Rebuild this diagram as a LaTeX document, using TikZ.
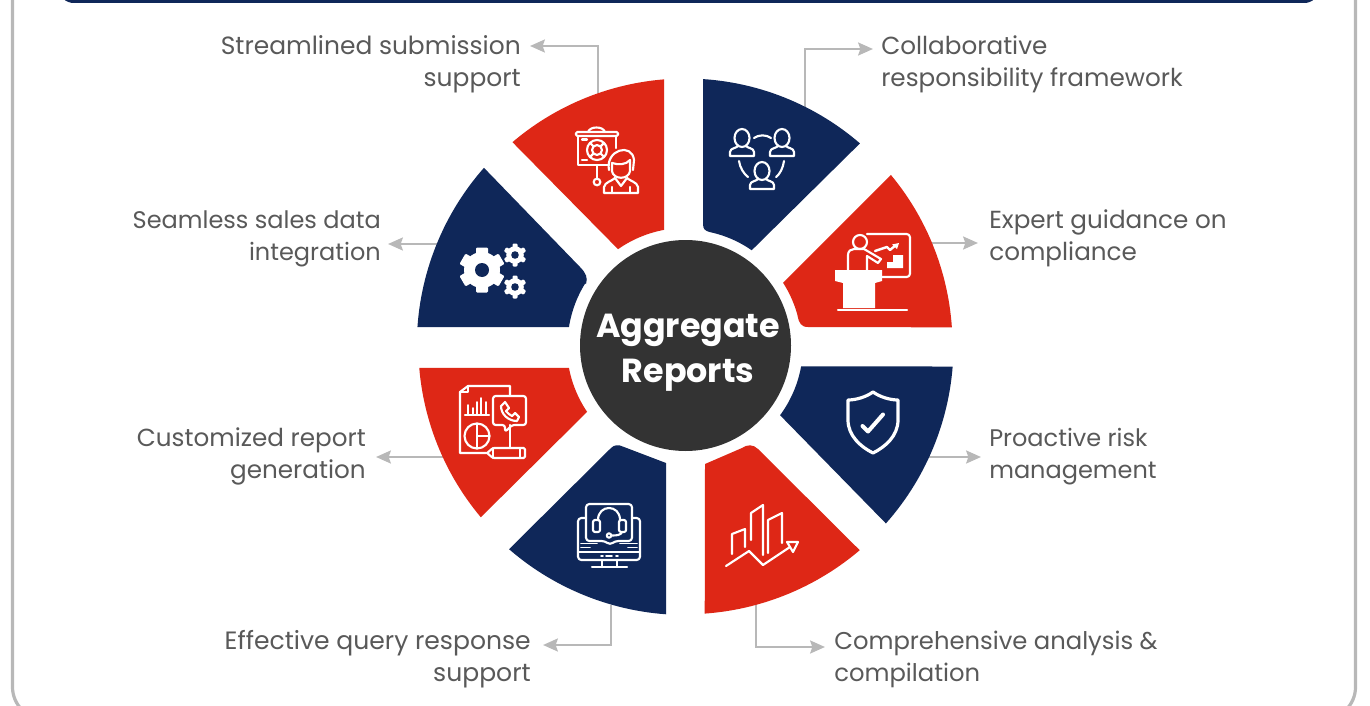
\documentclass[tikz,border=0pt]{standalone}
\usepackage{fontspec}
\setmainfont{Poppins}
\usetikzlibrary{arrows.meta}
\definecolor{navy}{HTML}{0F2759}
\definecolor{redc}{HTML}{DE2716}
\definecolor{darkc}{HTML}{333333}
\definecolor{linegray}{HTML}{B8B8B8}
\definecolor{labelgray}{HTML}{595959}
\tikzset{
  declare function={arx(\r,\a)=685.5+\r*cos(\a);ary(\r,\a)=345.5+\r*sin(\a);},
  every plot/.style={samples=30,variable=\t},
  conn/.style={draw=linegray,line width=2.2pt,-{Stealth[length=11pt,width=9.5pt,inset=1.5pt]}},
  lab/.style={text=labelgray,font=\fontsize{18.5}{24}\selectfont,inner sep=0pt},
  labs/.style={font=\fontsize{#1}{24}\selectfont},
  labr/.style={lab,align=right,anchor=east},
  labl/.style={lab,align=left,anchor=west},
  ico/.style={draw=white,line width=1.6pt,line join=round,line cap=round},
  hubdisc/.style={circle,fill=darkc,inner sep=0pt,minimum size=158.25pt},
  hubtext/.style={text=white,inner sep=0pt,align=center,font=\fontsize{25}{34}\selectfont\bfseries},
}
\newcommand{\personicon}[2]{%
  \draw[ico,shift={(#1,#2)}] (0,0) ellipse (7.5 and 9);
  \draw[ico,shift={(#1,#2)}] (-4,8) .. controls (-5,10) and (-12,10) .. (-12,14) -- (-12,18) -- (12,18) -- (12,14) .. controls (12,10) and (5,10) .. (4,8);
}
\newcommand{\gearicon}[7]{%
  \fill[white] (#1,#2) circle (#3);
  \foreach \g in {1,...,#7}
    \fill[white,rotate around={360/#7*\g:(#1,#2)},rounded corners=0.8] (#1-#5/2,#2-#4) rectangle (#1+#5/2,#2+#3-1);
  \fill[navy] (#1,#2) circle (#6);
}
\begin{document}
\begin{tikzpicture}[x=0.75pt,y=-0.75pt]
\useasboundingbox (0,0) rectangle (1370,706);
\clip (0,0) rectangle (1370,706);
\fill[white] (0,0) rectangle (1370,706);
% frame and header
\draw[linegray,line width=2.4pt,rounded corners=24pt] (12.5,-80) rectangle (1355.5,719);
\fill[navy,rounded corners=11pt] (59,-60) rectangle (1319,3);
% connector ends
\coordinate (s1) at (598,100); \coordinate (t1) at (530,46);
\coordinate (s2) at (805,110); \coordinate (t2) at (873,49);
\coordinate (s3) at (925,243); \coordinate (t3) at (978,243);
\coordinate (s4) at (925,457); \coordinate (t4) at (981,457);
\coordinate (s5) at (756,600); \coordinate (t5) at (825,647);
\coordinate (s6) at (611,605); \coordinate (t6) at (543,645);
\coordinate (s7) at (445,457); \coordinate (t7) at (376,457);
\coordinate (s8) at (442,244); \coordinate (t8) at (388,244);
\draw[conn] (s1) |- (t1);
\draw[conn] (s2) |- (t2);
\draw[conn] (s3) -- (t3);
\draw[conn] (s4) -- (t4);
\draw[conn] (s5) |- (t5);
\draw[conn] (s6) |- (t6);
\draw[conn] (s7) -- (t7);
\draw[conn] (s8) -- (t8);
% sectors
\fill[navy] plot[domain=-86.2:-49.2] ({arx(267,\t)},{ary(267,\t)}) -- plot[domain=-55.2:-77.7] ({arx(116,\t)},{ary(116,\t)}) .. controls (705,231) and (703,229) .. (703,224) -- cycle;
\fill[redc] plot[domain=-39.7:-3.9] ({arx(267,\t)},{ary(267,\t)}) -- (808,327) .. controls (801,327) and (799,323) .. (797.5,315.5) -- plot[domain=-15:-32.7] ({arx(116,\t)},{ary(116,\t)}) -- cycle;
\fill[navy] plot[domain=4.5:41.6] ({arx(268,\t)},{ary(268,\t)}) -- plot[domain=36.4:10.2] ({arx(117.5,\t)},{ary(117.5,\t)}) -- cycle;
\fill[redc] (705,464) -- (742,448) .. controls (747,444.5) and (753,444) .. (758,449) -- plot[domain=49.6:85.9] ({arx(268.8,\t)},{ary(268.8,\t)}) -- cycle;
\fill[navy] (666,463) -- (624,447) .. controls (618,444) and (614,445) .. (611,448) -- plot[domain=130.9:94.1] ({arx(269.5,\t)},{ary(269.5,\t)}) -- cycle;
\fill[redc] plot[domain=169.1:146] ({arx(118.7,\t)},{ary(118.7,\t)}) -- plot[domain=140:175.2] ({arx(267.2,\t)},{ary(267.2,\t)}) -- cycle;
\fill[navy] plot[domain=183.9:221.4] ({arx(268.7,\t)},{ary(268.7,\t)}) -- (580,267) .. controls (586,273) and (588,278) .. (586,284) -- plot[domain=211.7:189] ({arx(118,\t)},{ary(118,\t)}) -- cycle;
\fill[redc] plot[domain=229.6:265.4] ({arx(267,\t)},{ary(267,\t)}) -- plot[domain=259.5:235] ({arx(117.6,\t)},{ary(117.6,\t)}) -- cycle;
% centre
\node[hubdisc] (hub) at (685.5,345.5) {};
\node[hubtext] (hubt) at (688,353) {Aggregate\\Reports};
% labels
\node[labr,labs=18.7] (l1) at (521,64.5) {Streamlined submission\\support};
\node[labl] (l2) at (881,64.5) {Collaborative\\responsibility framework};
\node[labl] (l3) at (989,238.5) {Expert guidance on\\compliance};
\node[labl,labs=18] (l4) at (989,456.5) {Proactive risk\\management};
\node[labl,labs=18.2] (l5) at (834,659.5) {Comprehensive analysis \&\\compilation};
\node[labr,labs=18.8] (l6) at (531,659.5) {Effective query response\\support};
\node[labr] (l7) at (366,456.5) {Customized report\\generation};
\node[labr,labs=18] (l8) at (381,238.5) {Seamless sales data\\integration};
% icon: presenter with target
\draw[ico,rounded corners=1pt] (576,132) rectangle (618,136);
\draw[ico] (588,132) .. controls (590,126) and (603,126) .. (605,132);
\draw[ico] (578,136) -- (578,165) -- (609,165);
\draw[ico] (616,136) -- (616,148);
\draw[ico] (597,150) circle (10);
\draw[ico] (597,150) circle (5);
\draw[ico] (590,143) -- (593.5,146.5) (604,143) -- (600.5,146.5) (590,157) -- (593.5,153.5) (604,157) -- (600.5,153.5);
\draw[ico] (582,139.5) -- (587,139.5);
\draw[ico] (582,160) -- (587,160);
\draw[ico] (597,165) -- (597,178.5);
\draw[ico] (597,182) circle (3.3);
\draw[ico] (609,170) .. controls (605,150) and (632,142) .. (634,160) -- (633,170);
\draw[ico] (612,163) .. controls (618,165) and (626,165) .. (630,160);
\draw[ico] (612,163) -- (612,171) .. controls (613,180) and (629,180) .. (630,171) -- (630,160);
\draw[ico] (604,193) -- (604,187) .. controls (605,182) and (612,181) .. (615,178) -- (621,186) -- (627,178) .. controls (630,181) and (637,182) .. (638,187) -- (638,193) -- cycle;
\draw[ico] (612,187) -- (612,193);
\draw[ico] (630,187) -- (630,193);
% icon: three people
\personicon{742}{138}
\personicon{782}{138}
\personicon{762}{171}
\draw[ico] (754,138) .. controls (759,134.5) and (766,134.5) .. (771,138);
\draw[ico] (739,161) .. controls (740,168) and (744,174) .. (748,177);
\draw[ico] (784,161) .. controls (783,168) and (780,174) .. (776,177);
% icon: lecturer
\draw[ico,rounded corners=2.5pt] (867,234) -- (910,234) -- (910,277) -- (882,277);
\draw[ico] (860,242) circle (7);
\draw[ico] (848,270) -- (848,255) .. controls (848,251) and (851,249) .. (854,249) -- (864,249) -- (881,259) -- (878,263) -- (867,256) -- (867,270);
\fill[white] (835,270) -- (835,281) -- (843,283) -- (843,308) -- (875,308) -- (875,283) -- (882,281) -- (882,270) -- cycle;
\draw[ico] (838,310) -- (907,310);
\fill[white] (887,268) -- (887,262) -- (893,262) -- (893,255) -- (903,255) -- (903,268) -- cycle;
\draw[ico,line width=1.8pt] (875,251) -- (887,247) -- (890,250) -- (896,245);
\fill[white] (892,244.5) -- (899,243) -- (897,249) -- cycle;
% icon: gears
\gearicon{482}{270}{18}{22.5}{12}{7}{6}
\gearicon{515}{255}{8.8}{11.5}{5}{3.8}{6}
\gearicon{515}{287}{8.8}{11.5}{5}{3.8}{6}
% icon: report
\draw[ico] (510,395) -- (510,386) -- (468,386) -- (460,392) -- (460,453) -- (487,453);
\draw[ico] (468,386) -- (468,392) -- (460,392);
\draw[ico] (510,425) -- (510,448);
\draw[ico,rounded corners=2pt] (505,425) -- (493,425) -- (493,396) -- (526,396) -- (526,425) -- (512,425) -- (505,432) -- cycle;
\draw[ico] (501,406) -- (505,402) -- (509,408) -- (506,411) .. controls (507,413) and (510,415) .. (512,416) -- (515,413) -- (519,417) -- (517,421) .. controls (508,421) and (501,414) .. (501,406) -- cycle;
\draw[ico] (465,415) -- (489,415);
\draw[ico,line width=1.2pt] (468,415) -- (468,405) (473,415) -- (473,408) (477,415) -- (477,402) (481,415) -- (481,398) (486,415) -- (486,402);
\draw[ico] (477,436) circle (12.5);
\draw[ico] (477,423.5) -- (477,448.5) (477,436) -- (489.5,436);
\draw[ico,rounded corners=1pt] (493,448) -- (525,448) -- (525,458) -- (493,458) -- (487,453) -- cycle;
\draw[ico] (493,448) -- (493,458) (520,448) -- (520,458);
% icon: headset monitor
\draw[ico,rounded corners=2.5pt] (586,518) -- (578,518) -- (578,560) -- (640,560) -- (640,518) -- (632,518);
\draw[ico] (578,552) -- (640,552);
\draw[ico] (602,560) -- (602,567) (617,560) -- (617,567);
\draw[ico] (592,567) -- (627,567);
\draw[ico,rounded corners=2.5pt] (605,541) -- (586,541) -- (586,504) -- (632,504) -- (632,541) -- (615,541) -- (610,545) -- cycle;
\draw[ico] (598,520) .. controls (598,504) and (620,504) .. (620,520);
\draw[ico,rounded corners=1.5pt] (597,520) -- (593,520) -- (593,532) -- (600,532) -- (600,520) -- cycle;
\draw[ico,rounded corners=1.5pt] (619,520) -- (626,520) -- (626,532) -- (619,532) -- cycle;
\draw[ico] (622,532) .. controls (621,535) and (617,535.5) .. (612,535.5);
\draw[ico] (609,535.5) circle (2.2);
\draw[ico,line width=1.2pt] (581,543.5) -- (597,543.5) (581,547.5) -- (590,547.5) (620,543.5) -- (637,543.5) (628,547.5) -- (637,547.5);
\draw[ico,line width=1.2pt] (601,556) -- (603,556) (606,556) -- (612,556) (616,556) -- (618,556);
% icon: shield
\draw[ico,line width=2.4pt] (873,392) .. controls (880,397) and (890,400) .. (898,400) -- (898,420) .. controls (898,436) and (885,447) .. (873,453) .. controls (861,447) and (848,436) .. (848,420) -- (848,400) .. controls (856,400) and (866,397) .. (873,392) -- cycle;
\draw[ico,line width=3pt] (862.5,426) -- (868,431.5) -- (883,414.5);
% icon: chart
\draw[ico] (726,566) -- (749,551) -- (763,565) -- (790,547);
\draw[ico] (787,542) -- (798,542) -- (793,552) -- cycle;
\draw[ico] (732,554) -- (732,534) -- (745,529) -- (745,547);
\draw[ico] (751,540) -- (751,513) -- (763,505) -- (763,555);
\draw[ico] (768,553) -- (768,520) -- (782,513) -- (782,543);
\end{tikzpicture}
\end{document}
